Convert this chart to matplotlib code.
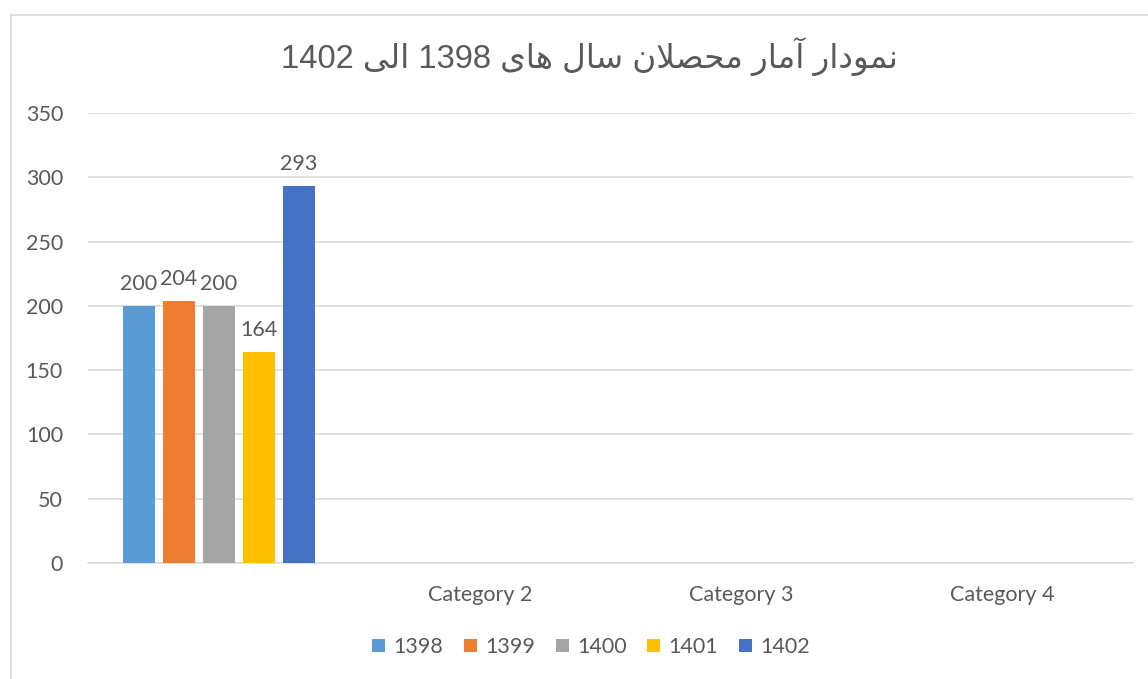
import matplotlib
matplotlib.use("Agg")
import matplotlib.pyplot as plt
from matplotlib.patches import Patch
from matplotlib.lines import Line2D
import numpy as np

# ---------------- data ----------------
title_text = "نمودار آمار محصلان سال های 1398 الی 1402"
categories = ["", "Category 2", "Category 3", "Category 4"]
series_names = ["1398", "1399", "1400", "1401", "1402"]
values_1398 = [200, np.nan, np.nan, np.nan]
values_1399 = [204, np.nan, np.nan, np.nan]
values_1400 = [200, np.nan, np.nan, np.nan]
values_1401 = [164, np.nan, np.nan, np.nan]
values_1402 = [293, np.nan, np.nan, np.nan]
series_values = [values_1398, values_1399, values_1400, values_1401, values_1402]
colors = ["#5B9BD5", "#ED7D31", "#A5A5A5", "#FFC000", "#4472C4"]
y_ticks = [0, 50, 100, 150, 200, 250, 300, 350]

# ------------- minimal Arabic/Persian shaping -------------
AR_FORMS = {
    '\u0627': ('\uFE8D', '\uFE8E', None, None),
    '\u0622': ('\uFE81', '\uFE82', None, None),
    '\u062F': ('\uFEA9', '\uFEAA', None, None),
    '\u0631': ('\uFEAD', '\uFEAE', None, None),
    '\u0648': ('\uFEED', '\uFEEE', None, None),
    '\u0646': ('\uFEE5', '\uFEE6', '\uFEE7', '\uFEE8'),
    '\u0645': ('\uFEE1', '\uFEE2', '\uFEE3', '\uFEE4'),
    '\u062D': ('\uFEA1', '\uFEA2', '\uFEA3', '\uFEA4'),
    '\u0635': ('\uFEB9', '\uFEBA', '\uFEBB', '\uFEBC'),
    '\u0644': ('\uFEDD', '\uFEDE', '\uFEDF', '\uFEE0'),
    '\u0633': ('\uFEB1', '\uFEB2', '\uFEB3', '\uFEB4'),
    '\u0647': ('\uFEE9', '\uFEEA', '\uFEEB', '\uFEEC'),
    '\u06CC': ('\uFEEF', '\uFEF0', '\uFBFE', '\uFBFF'),
}
LAM_ALEF = {'\u0627': ('\uFEFB', '\uFEFC'), '\u0622': ('\uFEF5', '\uFEF6')}


def shape_word(w):
    units = []
    i = 0
    while i < len(w):
        c = w[i]
        if c == '\u0644' and i + 1 < len(w) and w[i + 1] in LAM_ALEF:
            iso, fin = LAM_ALEF[w[i + 1]]
            units.append((iso, fin, None, None))
            i += 2
            continue
        units.append(AR_FORMS[c] if c in AR_FORMS else c)
        i += 1
    out = []
    for k, u in enumerate(units):
        if isinstance(u, str):
            out.append(u)
            continue
        prev = units[k - 1] if k > 0 else None
        nxt = units[k + 1] if k + 1 < len(units) else None
        jp = isinstance(prev, tuple) and prev[2] is not None
        jn = u[2] is not None and isinstance(nxt, tuple)
        if jp and jn:
            out.append(u[3])
        elif jp:
            out.append(u[1])
        elif jn:
            out.append(u[2])
        else:
            out.append(u[0])
    return "".join(reversed(out))


def rtl_line(s):
    toks = s.split(" ")
    vis = []
    for t in reversed(toks):
        if any(ch in AR_FORMS for ch in t):
            vis.append(shape_word(t))
        else:
            vis.append(t)
    return " ".join(vis)


# ---------------- figure ----------------
W, H = 1148, 679
fig = plt.figure(figsize=(W / 100, H / 100), dpi=100)
fig.patch.set_facecolor("white")

ax_left, ax_right = 88 / W, 1133 / W
ax_bottom, ax_top = 1 - 563 / H, 1 - 113 / H
ax = fig.add_axes([ax_left, ax_bottom, ax_right - ax_left, ax_top - ax_bottom])

text_color = "#595959"
grid_color = "#D9D9D9"
tick_font = ["Lato", "DejaVu Sans"]
fs = 15.5

x = np.arange(len(categories))
bar_w = 0.1226
step = 0.153
n = len(series_names)
for i, (name, vals, col) in enumerate(zip(series_names, series_values, colors)):
    offs = (i - (n - 1) / 2) * step
    ax.bar(x + offs, vals, width=bar_w, color=col, label=name, zorder=3)
    for xb, v in zip(x + offs, vals):
        if not np.isnan(v):
            ax.annotate(f"{v:.0f}", (xb, v), xytext=(0, 8.5), textcoords="offset points",
                        ha="center", va="bottom", fontsize=fs, color=text_color,
                        family=tick_font)

ax.set_xlim(-0.5, len(categories) - 0.5)
ax.set_ylim(0, 350)
ax.set_yticks(y_ticks)
ax.set_yticklabels([str(t) for t in y_ticks], fontsize=fs, color=text_color, family=tick_font)
ax.set_xticks(x)
ax.set_xticklabels(categories, fontsize=fs, color=text_color, family=tick_font)
ax.tick_params(axis="y", length=0, pad=18)
ax.tick_params(axis="x", length=0, pad=16)
ax.grid(axis="y", color=grid_color, linewidth=1.1, zorder=0)
ax.set_axisbelow(True)
for s in ["top", "right", "left"]:
    ax.spines[s].set_visible(False)
ax.spines["bottom"].set_color(grid_color)
ax.spines["bottom"].set_linewidth(1.1)

# title
fig.text(589 / W, 1 - 57 / H, rtl_line(title_text), ha="center", va="center",
         fontsize=23.5, color=text_color, family=["Liberation Sans", "DejaVu Sans"])

# legend
handles = [Patch(facecolor=c, edgecolor="none") for c in colors]
fig.legend(handles, series_names, loc="center", bbox_to_anchor=(591 / W, 1 - 647 / H),
           ncol=5, frameon=False, handlelength=0.6, handleheight=0.6,
           handletextpad=0.4, columnspacing=0.95,
           prop={"family": tick_font, "size": fs}, labelcolor=text_color)

# chart-area border (left and top visible)
fig.add_artist(Line2D([10.5 / W, 10.5 / W], [0, 1 - 14.5 / H], transform=fig.transFigure,
                      color=grid_color, linewidth=1.2))
fig.add_artist(Line2D([10.5 / W, 1], [1 - 14.5 / H, 1 - 14.5 / H], transform=fig.transFigure,
                      color=grid_color, linewidth=1.2))

fig.savefig("out.png", dpi=100, facecolor="white")
